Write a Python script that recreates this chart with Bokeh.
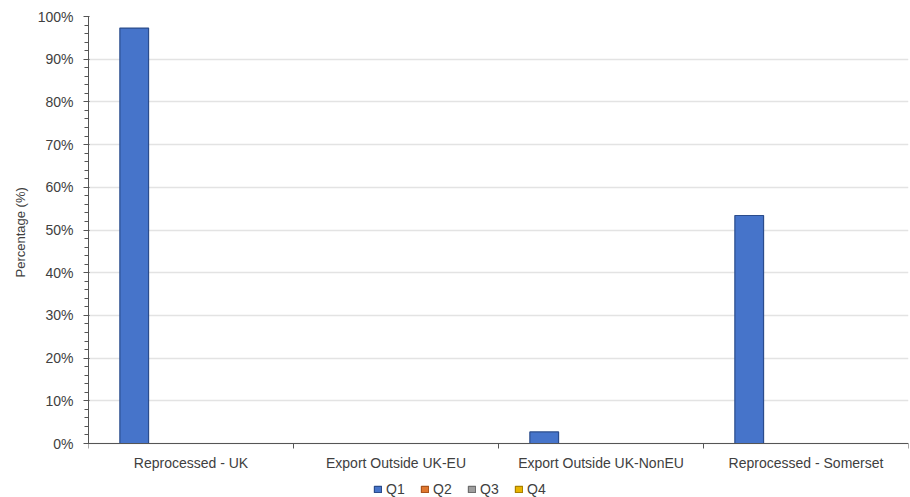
import math
from bokeh.plotting import figure
from bokeh.models import (ColumnDataSource, FixedTicker, PrintfTickFormatter,
                          Legend, LegendItem, Range1d, Span, Title)
from bokeh.core.properties import value
from bokeh.embed import file_html
from bokeh.resources import INLINE

categories = ["Reprocessed - UK", "Export Outside UK-EU",
              "Export Outside UK-NonEU", "Reprocessed - Somerset"]
series = ["Q1", "Q2", "Q3", "Q4"]
q1 = [97.3, 0.0, 2.7, 53.4]
q2 = [0.0, 0.0, 0.0, 0.0]
q3 = [0.0, 0.0, 0.0, 0.0]
q4 = [0.0, 0.0, 0.0, 0.0]
values = [q1, q2, q3, q4]
y_ticks = [0, 10, 20, 30, 40, 50, 60, 70, 80, 90, 100]
y_minor = [v for v in range(0, 101, 2)]
colors = ["#4674CA", "#E0772E", "#9E9E9E", "#E8B400"]
edges = ["#2B4C8C", "#A9541C", "#6E6E6E", "#A98000"]

FONT = "Liberation Sans"
TXT = "#404040"
AX = "#555555"

W, H = 910, 497
TOP, ZERO_Y = 16, 443          # pixel rows of 100% and 0%
y_start = -100 * (H - ZERO_Y) / (ZERO_Y - TOP)

p = figure(width=W, height=H, output_backend="svg", toolbar_location=None,
           x_range=Range1d(0, 4), y_range=Range1d(y_start, 100),
           min_border_left=88, min_border_top=TOP, min_border_bottom=0,
           min_border_right=2, x_axis_location=None)
p.outline_line_color = None
p.xgrid.grid_line_color = None
p.ygrid.grid_line_color = "#E3E3E3"
p.ygrid.grid_line_width = 1.5

bw = 0.14
items = []
for j, (name, vals) in enumerate(zip(series, values)):
    xs = [i + 0.5 + (j - 2) * bw + 0.003 for i in range(len(categories))]
    src = ColumnDataSource(dict(x=xs, top=vals))
    r = p.vbar(x="x", top="top", width=bw, source=src,
               fill_color=colors[j], line_color=edges[j], line_width=1.2)
    items.append(LegendItem(label=name, renderers=[r]))

# y axis
p.yaxis.ticker = FixedTicker(ticks=y_ticks, minor_ticks=y_minor)
p.yaxis.bounds = (0, 100)
p.yaxis.formatter = PrintfTickFormatter(format="%d%%")
p.yaxis.major_label_text_font = FONT
p.yaxis.major_label_text_font_size = "14px"
p.yaxis.major_label_text_color = TXT
p.yaxis.major_tick_out = 5
p.yaxis.major_tick_in = 1
p.yaxis.minor_tick_out = 4
p.yaxis.minor_tick_in = 0
p.yaxis.axis_line_color = AX
p.yaxis.major_tick_line_color = AX
p.yaxis.minor_tick_line_color = AX
p.yaxis.major_label_standoff = 10

ylab = Title(text="Percentage (%)", align="left", offset=220, standoff=14,
             text_font=FONT, text_font_size="13px", text_font_style="normal",
             text_color=TXT)
p.add_layout(ylab, "left")

# category axis drawn at 0%
p.add_layout(Span(location=0, dimension="width", line_color=AX, line_width=1))
bounds = list(range(len(categories) + 1))
p.ray(x=bounds, y=[0] * len(bounds), length=5, length_units="screen",
      angle=-math.pi / 2, line_color=AX, line_width=1)
centers = [i + 0.5 for i in range(len(categories))]
p.text(x=centers, y=[0] * len(centers), text=categories, y_offset=11,
       text_align="center", text_baseline="top",
       text_font=value(FONT), text_font_size="14px", text_color=TXT)

legend = Legend(items=items, orientation="horizontal", location=(285, 0),
                glyph_width=9, glyph_height=8, label_standoff=4, spacing=14,
                padding=0, margin=0, border_line_color=None,
                background_fill_alpha=0,
                label_text_font=FONT, label_text_font_size="14px",
                label_text_color=TXT, label_height=13)
p.add_layout(legend, "center")

open("out.html", "w").write(file_html(p, INLINE))
